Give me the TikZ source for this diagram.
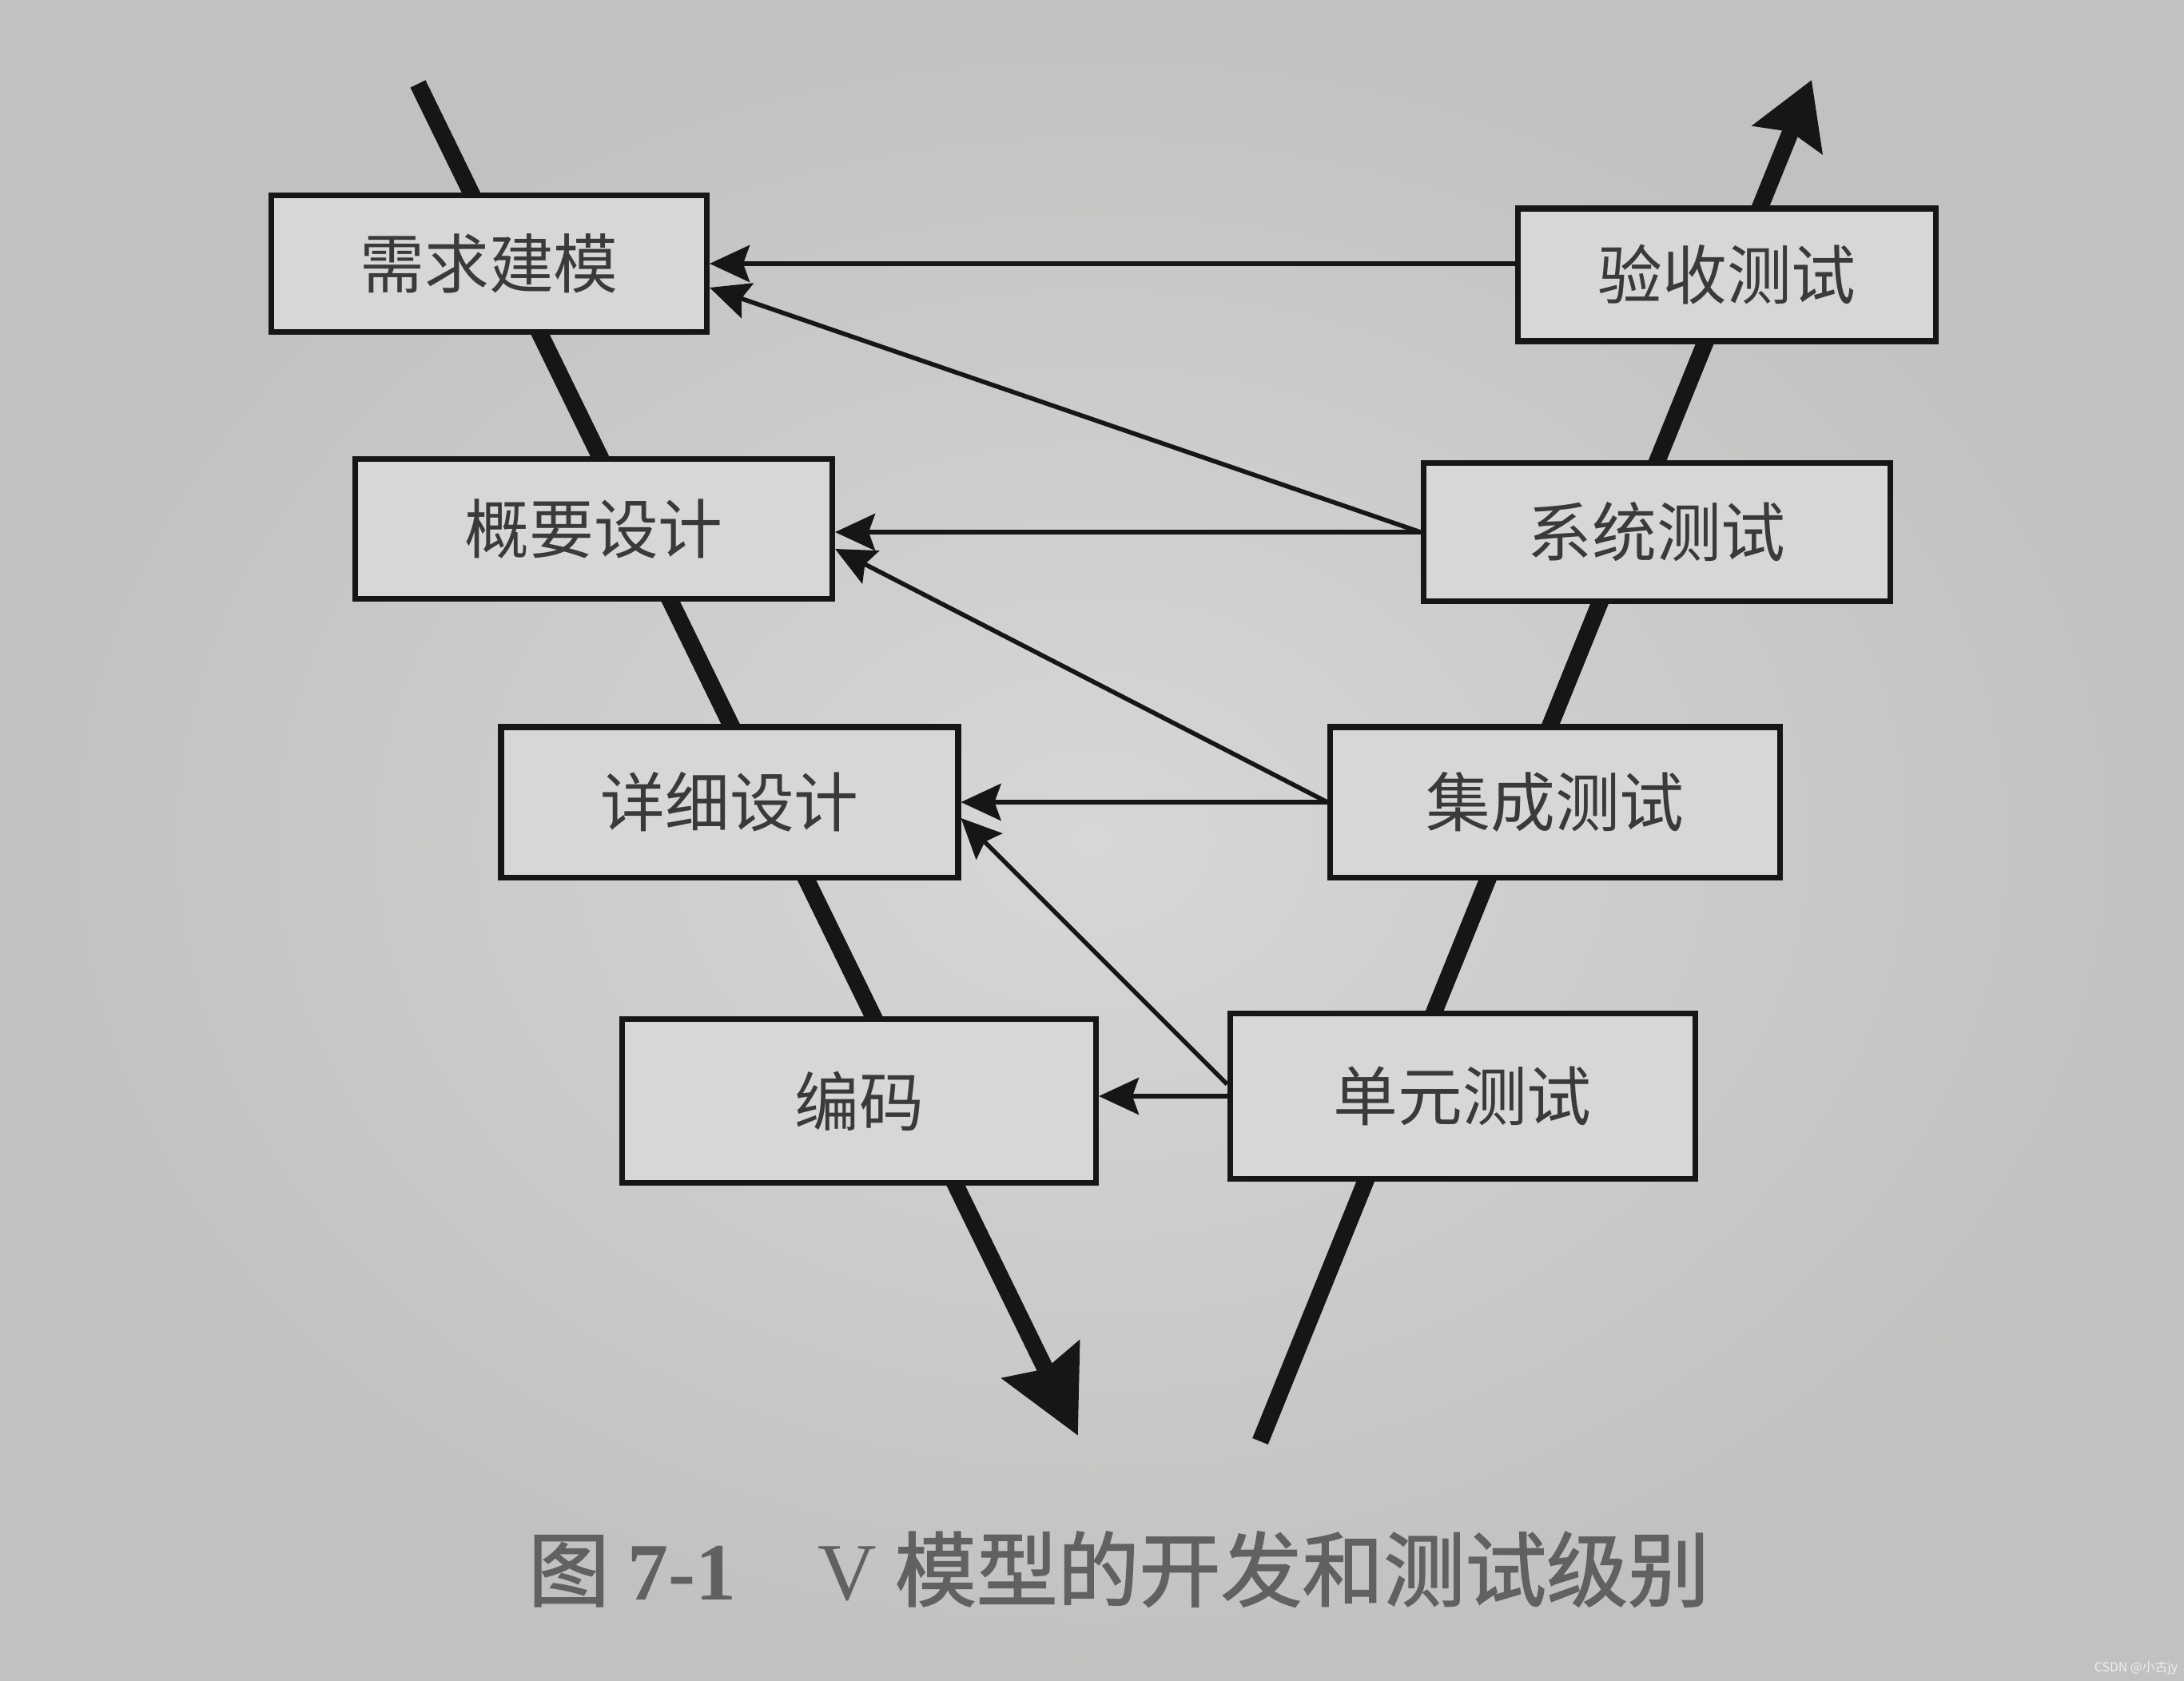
\documentclass[tikz,border=0pt]{standalone}
\usepackage{fontspec}
\setmainfont{Liberation Serif}
\newfontfamily\cjk{Noto Sans CJK SC}
\newfontfamily\cjkcap[FakeBold=1.5]{Noto Sans CJK SC}
\usetikzlibrary{arrows.meta}

\definecolor{paper}{HTML}{D8D7D5}
\definecolor{paperedge}{HTML}{C2C1BF}
\definecolor{ink}{HTML}{161616}
\definecolor{inkgray}{HTML}{3A3A3A}

\tikzset{
  stage/.style={draw=ink, line width=2pt, fill=paper, text=inkgray,
    font=\cjk\fontsize{23}{23}\selectfont, inner sep=0pt},
  trace/.style={draw=ink, line width=1.6pt,
    -{Stealth[length=0.5cm,width=0.46cm,inset=0.08cm]}},
  vline/.style={draw=ink, line width=6pt}
}

\begin{document}
\begin{tikzpicture}
\shade[inner color=paper, outer color=paperedge] (0,0) rectangle (27.33,-21.04);
\useasboundingbox (0,0) rectangle (27.33,-21.04);

\coordinate (ltop) at (5.23,-1.05);
\coordinate (lbot) at (13.49,-17.97);
\coordinate (rbot) at (15.77,-18.04);
\coordinate (rtop) at (22.67,-1.00);
\draw[vline, -{Stealth[length=1.05cm,width=1.05cm,inset=0.12cm]}] (ltop) -- (lbot);
\draw[vline, -{Stealth[length=0.8cm,width=0.92cm,inset=0.1cm]}] (rbot) -- (rtop);

\node[stage, minimum width=5.45cm, minimum height=1.71cm] (need) at (6.12,-3.30) {需求建模};
\node[stage, minimum width=5.23cm, minimum height=1.66cm] (accept) at (21.61,-3.44) {验收测试};
\node[stage, minimum width=5.97cm, minimum height=1.75cm] (outline) at (7.43,-6.62) {概要设计};
\node[stage, minimum width=5.84cm, minimum height=1.73cm] (system) at (20.73,-6.66) {系统测试};
\node[stage, minimum width=5.72cm, minimum height=1.88cm] (detail) at (9.13,-10.04) {详细设计};
\node[stage, minimum width=5.63cm, minimum height=1.88cm] (integ) at (19.46,-10.04) {集成测试};
\node[stage, minimum width=5.93cm, minimum height=2.05cm] (code) at (10.75,-13.78) {编码};
\node[stage, minimum width=5.82cm, minimum height=2.07cm] (unit) at (18.30,-13.72) {单元测试};

\draw[trace] (accept.west |- need.east) -- (need.east);
\draw[trace] (system.west) -- ([yshift=-0.3cm]need.east);
\draw[trace] (system.west) -- (system.west -| outline.east);
\draw[trace] (integ.west) -- ([yshift=-0.25cm]outline.east);
\draw[trace] (integ.west) -- (integ.west -| detail.east);
\draw[trace] ([yshift=0.15cm]unit.west) -- ([yshift=-0.2cm]detail.east);
\draw[trace] (unit.west) -- (unit.west -| code.east);

\node[text=inkgray!80, font=\cjkcap\fontsize{29}{29}\selectfont] (caption) at (14.0,-19.64)
  {图 {\rmfamily\bfseries 7-1}\quad{\rmfamily V} 模型的开发和测试级别};
\node[text=white!88!gray, font=\cjk\fontsize{4.5}{4.5}\selectfont] (mark) at (26.73,-20.88) {CSDN @小古jy};
\end{tikzpicture}
\end{document}
